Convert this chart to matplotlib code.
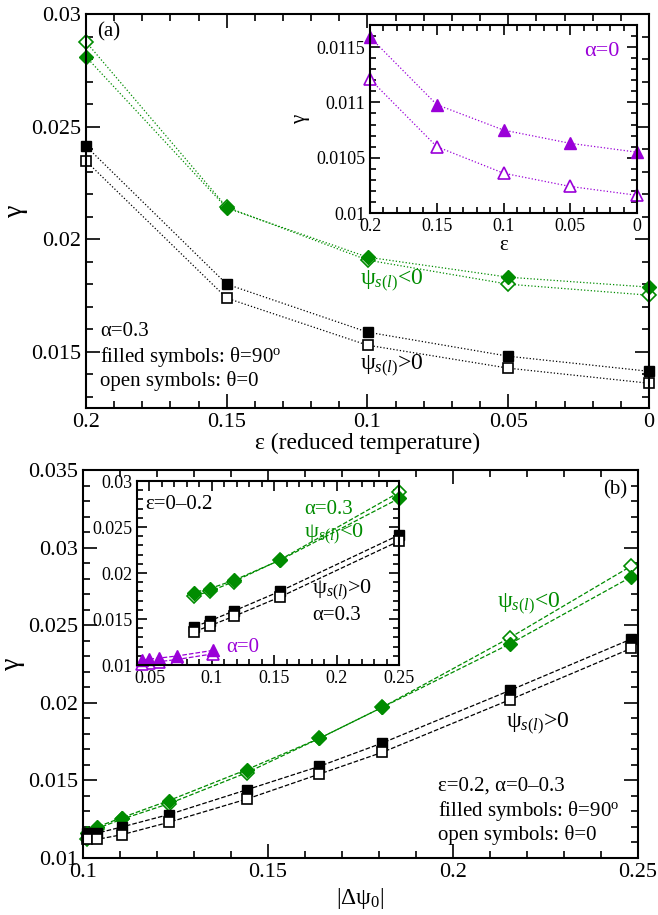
import numpy as np
import matplotlib
matplotlib.use("Agg")
import matplotlib.pyplot as plt
from matplotlib.ticker import MultipleLocator, FuncFormatter

plt.rcParams['font.family'] = ['Liberation Serif', 'DejaVu Serif']
plt.rcParams['mathtext.fontset'] = 'custom'
plt.rcParams['mathtext.rm'] = 'Liberation Serif'
plt.rcParams['mathtext.it'] = 'Liberation Serif:italic'

GREEN = '#008c00'
PURPLE = '#9a00d8'

# ---- panel (a): gamma vs reduced temperature, alpha = 0.3
eps = [0.2, 0.15, 0.1, 0.05, 0.0]
neg_filled = [0.0281, 0.02138, 0.0192, 0.01831, 0.01787]
neg_open = [0.02876, 0.02142, 0.01907, 0.0180, 0.01751]
pos_filled = [0.02413, 0.0180, 0.01587, 0.0148, 0.01413]
pos_open = [0.02347, 0.01738, 0.01529, 0.01427, 0.0136]

# inset (a): alpha = 0
a0_filled = [0.01159, 0.01098, 0.01075, 0.01063, 0.01055]
a0_open = [0.01121, 0.0106, 0.01036, 0.01024, 0.01016]

# ---- panel (b): gamma vs |dpsi0| at eps = 0.2, alpha = 0-0.3
dpsi = [0.1011, 0.1038, 0.1105, 0.1232, 0.1443, 0.1638, 0.1808, 0.2154, 0.2481]
b_neg_filled = [0.0116, 0.0120, 0.0126, 0.0137, 0.0157, 0.0177, 0.0197, 0.0238, 0.0281]
b_neg_open = [0.0112, 0.0119, 0.0125, 0.0135, 0.0155, 0.0177, 0.0197, 0.0242, 0.0288]
b_pos_filled = [0.0116, 0.0116, 0.0120, 0.0128, 0.0144, 0.0159, 0.0174, 0.0208, 0.0241]
b_pos_open = [0.0112, 0.0112, 0.0115, 0.0123, 0.0138, 0.0154, 0.0168, 0.0202, 0.0235]

# inset (b): eps = 0-0.2, |dpsi0| at each eps
dpsi_a03 = [0.25, 0.1544, 0.1176, 0.0984, 0.0856]
dpsi_a0 = [0.101, 0.072, 0.0576, 0.0496, 0.044]

W, H = 658, 915
fig = plt.figure(figsize=(W / 100, H / 100), dpi=100)


def box(l, t, r, b):
    return [l / W, 1 - b / H, (r - l) / W, (b - t) / H]


def txt(x, y, s, **kw):
    fig.text(x / W, 1 - y / H, s, **kw)


fmt = FuncFormatter(lambda v, p: '%g' % round(v, 6))


def style(ax, fs, major_len=8, minor_len=4):
    for sp in ax.spines.values():
        sp.set_linewidth(1.5)
    ax.tick_params(which='both', direction='in', top=True, right=True, labelsize=fs, width=1.2)
    ax.tick_params(which='major', length=major_len)
    ax.tick_params(which='minor', length=minor_len)
    ax.xaxis.set_major_formatter(fmt)
    ax.yaxis.set_major_formatter(fmt)


ms = 7.5
lw = 0.9

# ---------------- panel (a)
ax1 = fig.add_axes(box(86, 14, 649, 408))
ax1.plot(eps, neg_open, ':', color=GREEN, lw=lw, marker='D', ms=ms, mfc='white', mec=GREEN, mew=1.2, clip_on=False)
ax1.plot(eps, neg_filled, ':', color=GREEN, lw=lw, marker='D', ms=ms, mfc=GREEN, mec=GREEN, clip_on=False)
ax1.plot(eps, pos_filled, ':', color='black', lw=lw, marker='s', ms=ms, mfc='black', mec='black', clip_on=False)
ax1.plot(eps, pos_open, ':', color='black', lw=lw, marker='s', ms=ms, mfc='white', mec='black', mew=1.2, clip_on=False)
ax1.set_xlim(0.2, 0.0)
ax1.set_ylim(0.0125, 0.03)
ax1.xaxis.set_major_locator(MultipleLocator(0.05))
ax1.xaxis.set_minor_locator(MultipleLocator(0.01))
ax1.yaxis.set_major_locator(MultipleLocator(0.005))
ax1.yaxis.set_minor_locator(MultipleLocator(0.001))
style(ax1, 16, 10, 5)
ax1.set_xlabel('ε (reduced temperature)', fontsize=17, labelpad=1)
ax1.set_ylabel('γ', fontsize=20, labelpad=2)

txt(97, 32, '(a)', fontsize=15, va='center')
txt(100, 332, 'α=0.3', fontsize=15, va='center')
txt(100, 357, r'filled symbols: θ=90$^{\rm o}$', fontsize=15, va='center')
txt(100, 381, 'open symbols: θ=0', fontsize=15, va='center')
txt(360, 285, r'ψ$_{s(l)}$<0', fontsize=17, va='baseline', color=GREEN)
txt(360, 370, r'ψ$_{s(l)}$>0', fontsize=17, va='baseline', color='black')

# inset (a)
ax1i = fig.add_axes(box(370, 25, 637, 213))
ax1i.plot(eps, a0_filled, ':', color=PURPLE, lw=lw, marker='^', ms=9, mfc=PURPLE, mec=PURPLE, clip_on=False)
ax1i.plot(eps, a0_open, ':', color=PURPLE, lw=lw, marker='^', ms=9, mfc='white', mec=PURPLE, mew=1.2, clip_on=False)
ax1i.set_xlim(0.2, 0.0)
ax1i.set_ylim(0.01, 0.0117)
ax1i.xaxis.set_major_locator(MultipleLocator(0.05))
ax1i.xaxis.set_minor_locator(MultipleLocator(0.01))
ax1i.yaxis.set_major_locator(MultipleLocator(0.0005))
ax1i.yaxis.set_minor_locator(MultipleLocator(0.0001))
style(ax1i, 13, 7, 4)
ax1i.set_xlabel('ε', fontsize=15, labelpad=1)
ax1i.set_ylabel('γ', fontsize=15, labelpad=4)
txt(584, 52, 'α=0', fontsize=16, va='center', color=PURPLE)

# ---------------- panel (b)
ax2 = fig.add_axes(box(83, 470, 638, 858))
ax2.plot(dpsi, b_neg_open, '--', color=GREEN, lw=lw, marker='D', ms=ms, mfc='white', mec=GREEN, mew=1.2, clip_on=False)
ax2.plot(dpsi, b_neg_filled, '--', color=GREEN, lw=lw, marker='D', ms=ms, mfc=GREEN, mec=GREEN, clip_on=False)
ax2.plot(dpsi, b_pos_filled, '--', color='black', lw=lw, marker='s', ms=ms, mfc='black', mec='black', clip_on=False)
ax2.plot(dpsi, b_pos_open, '--', color='black', lw=lw, marker='s', ms=ms, mfc='white', mec='black', mew=1.2, clip_on=False)
ax2.set_xlim(0.1, 0.25)
ax2.set_ylim(0.01, 0.035)
ax2.xaxis.set_major_locator(MultipleLocator(0.05))
ax2.xaxis.set_minor_locator(MultipleLocator(0.01))
ax2.yaxis.set_major_locator(MultipleLocator(0.005))
ax2.yaxis.set_minor_locator(MultipleLocator(0.001))
style(ax2, 16, 10, 5)
ax2.set_xlabel('|Δψ$_0$|', fontsize=17, labelpad=3)
ax2.set_ylabel('γ', fontsize=20, labelpad=2)

txt(603, 490, '(b)', fontsize=15, va='center')
txt(497, 608, r'ψ$_{s(l)}$<0', fontsize=17, va='baseline', color=GREEN)
txt(506, 728, r'ψ$_{s(l)}$>0', fontsize=17, va='baseline', color='black')
txt(438, 786, 'ε=0.2, α=0–0.3', fontsize=15, va='center')
txt(438, 811, r'filled symbols: θ=90$^{\rm o}$', fontsize=15, va='center')
txt(438, 835, 'open symbols: θ=0', fontsize=15, va='center')

# inset (b)
ax2i = fig.add_axes(box(137, 481, 399, 665))
ax2i.plot(dpsi_a03, neg_open, '--', color=GREEN, lw=lw, marker='D', ms=ms, mfc='white', mec=GREEN, mew=1.2, clip_on=False)
ax2i.plot(dpsi_a03, neg_filled, '--', color=GREEN, lw=lw, marker='D', ms=ms, mfc=GREEN, mec=GREEN, clip_on=False)
ax2i.plot(dpsi_a03, pos_filled, '--', color='black', lw=lw, marker='s', ms=ms, mfc='black', mec='black', clip_on=False)
ax2i.plot(dpsi_a03, pos_open, '--', color='black', lw=lw, marker='s', ms=ms, mfc='white', mec='black', mew=1.2, clip_on=False)
ax2i.plot(dpsi_a0, a0_open, '--', color=PURPLE, lw=lw, marker='^', ms=8, mfc='white', mec=PURPLE, mew=1.2, clip_on=False)
ax2i.plot(dpsi_a0, a0_filled, '--', color=PURPLE, lw=lw, marker='^', ms=8, mfc=PURPLE, mec=PURPLE, clip_on=False)
ax2i.set_xlim(0.04, 0.25)
ax2i.set_ylim(0.01, 0.03)
ax2i.xaxis.set_major_locator(MultipleLocator(0.05))
ax2i.xaxis.set_minor_locator(MultipleLocator(0.01))
ax2i.yaxis.set_major_locator(MultipleLocator(0.005))
ax2i.yaxis.set_minor_locator(MultipleLocator(0.001))
style(ax2i, 13, 7, 4)

txt(145, 505, 'ε=0–0.2', fontsize=15, va='center')
txt(304, 510, 'α=0.3', fontsize=15, va='center', color=GREEN)
txt(304, 537, r'ψ$_{s(l)}$<0', fontsize=16, va='baseline', color=GREEN)
txt(312, 593, r'ψ$_{s(l)}$>0', fontsize=16, va='baseline', color='black')
txt(312, 615, 'α=0.3', fontsize=15, va='center', color='black')
txt(226, 648, 'α=0', fontsize=15, va='center', color=PURPLE)

fig.savefig('out.png', dpi=100)
